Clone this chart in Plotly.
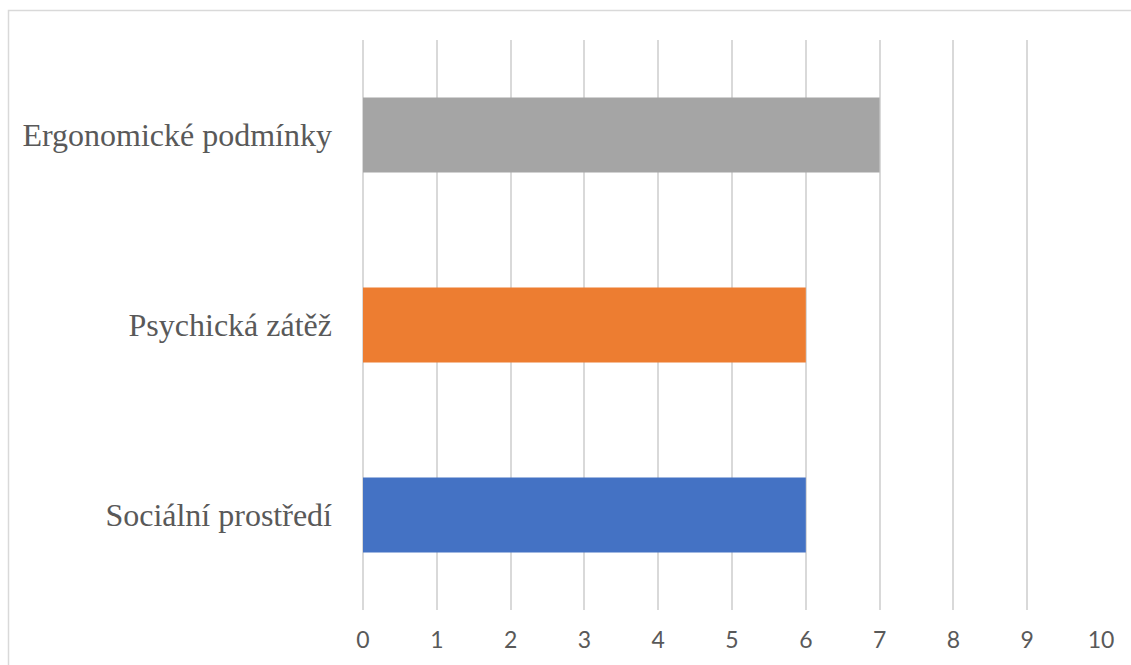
import plotly.graph_objects as go

categories = ["Sociální prostředí", "Psychická zátěž", "Ergonomické podmínky"]
values = [6, 6, 7]
bar_colors = ["#4472C4", "#ED7D31", "#A5A5A5"]
tick_vals = list(range(0, 11))

W, H = 1131, 665
ML, MR, MT, MB = 363, 30, 40, 55
pw = W - ML - MR
ph = H - MT - MB

fig = go.Figure(
    go.Bar(
        x=values,
        y=categories,
        orientation="h",
        marker=dict(color=bar_colors, line=dict(width=0)),
        width=0.395,
    )
)

fig.update_layout(
    width=W,
    height=H,
    margin=dict(l=ML, r=MR, t=MT, b=MB, pad=0),
    paper_bgcolor="white",
    plot_bgcolor="white",
    showlegend=False,
    xaxis=dict(
        range=[0, 10],
        tickvals=tick_vals,
        showgrid=True,
        gridcolor="#D9D9D9",
        gridwidth=1.5,
        zeroline=True,
        zerolinecolor="#D9D9D9",
        zerolinewidth=1.5,
        showline=False,
        ticks="",
        tickfont=dict(family="Lato, Carlito, sans-serif", size=23, color="#595959"),
        ticklabelstandoff=14,
        fixedrange=True,
    ),
    yaxis=dict(
        type="category",
        categoryorder="array",
        categoryarray=categories,
        range=[-0.5, 2.5],
        showgrid=False,
        showline=False,
        zeroline=False,
        ticks="",
        tickfont=dict(family="Liberation Serif, Times New Roman, serif", size=32, color="#595959"),
        ticklabelstandoff=30,
        fixedrange=True,
    ),
    shapes=[
        dict(
            type="rect",
            xref="paper",
            yref="paper",
            x0=(8.5 - ML) / pw,
            x1=(W + 5 - ML) / pw,
            y0=-(MB + 10) / ph,
            y1=(H - MB - 10.5) / ph,
            line=dict(color="#D9D9D9", width=1.5),
            fillcolor="rgba(0,0,0,0)",
            layer="below",
        )
    ],
)

fig.write_html(
    "out.html",
    config={"displayModeBar": False},
    post_script="document.body.style.margin='0';document.body.style.overflow='hidden';",
)
